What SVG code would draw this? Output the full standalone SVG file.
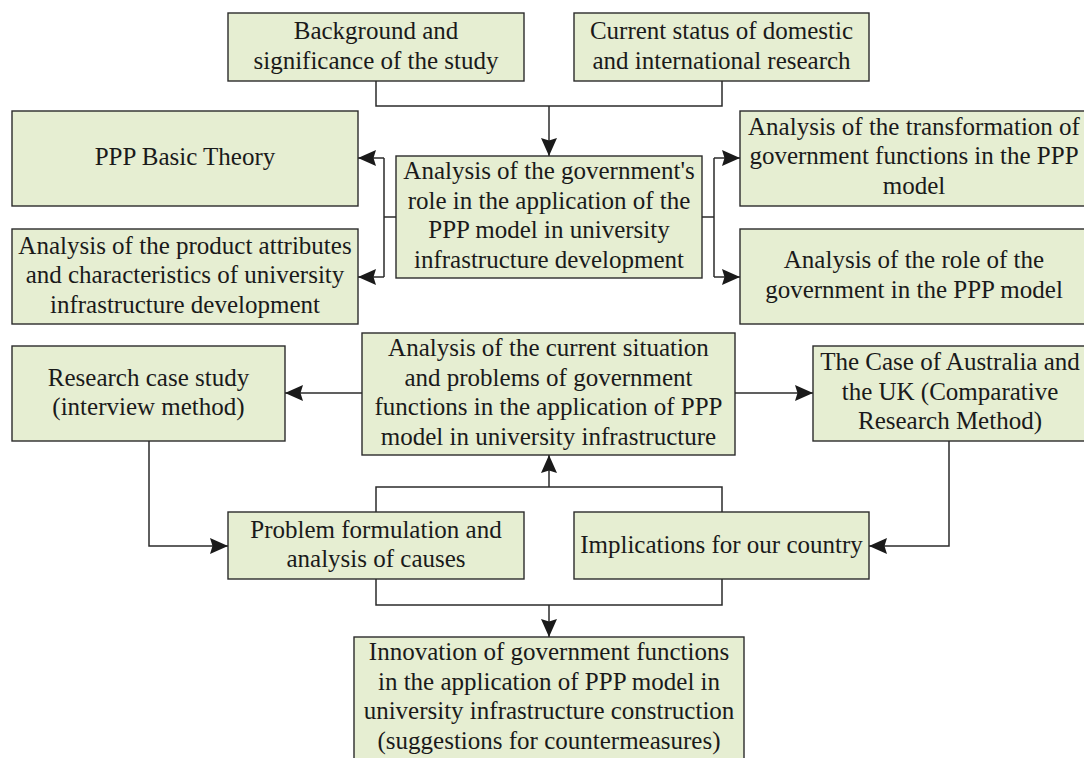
<svg xmlns="http://www.w3.org/2000/svg" width="1084" height="758" viewBox="0 0 1084 758">
  <style>
    .box { fill: #E6EED2; stroke: #2B2B2B; stroke-width: 1.4; }
    .lbl { font-family: 'Liberation Serif', 'Times New Roman', Tinos, 'DejaVu Serif', serif; font-size: 25px; fill: #1A1A1A; text-anchor: middle; }
    .wire { fill: none; stroke: #2B2B2B; stroke-width: 1.5; }
    .arr { marker-end: url(#head); }
  </style>
  <defs>
    <marker id="head" viewBox="0 0 18 16" refX="18" refY="8" markerWidth="18" markerHeight="16" markerUnits="userSpaceOnUse" orient="auto">
      <path d="M0,0 L18,8 L0,16 L2.5,8 Z" fill="#1A1A1A"/>
    </marker>
  </defs>
  <rect width="1084" height="758" fill="#FFFFFF"/>

  <g id="connectors">
    <!-- top two boxes merge into the central analysis box -->
    <path class="wire" d="M376,81 V106 H722 V81"/>
    <path class="wire arr" d="M549,106 V156"/>
    <!-- left fan-out -->
    <path class="wire" d="M396,217 H384 M384,158 V277"/>
    <path class="wire arr" d="M384,158 H358"/>
    <path class="wire arr" d="M384,277 H358"/>
    <!-- right fan-out -->
    <path class="wire" d="M702,217 H714 M714,158 V277"/>
    <path class="wire arr" d="M714,158 H740"/>
    <path class="wire arr" d="M714,277 H740"/>
    <!-- second row -->
    <path class="wire arr" d="M362,393 H285"/>
    <path class="wire arr" d="M735,393 H813"/>
    <path class="wire arr" d="M149,441 V546 H228"/>
    <path class="wire arr" d="M949,441 V546 H869"/>
    <!-- problem / implications brackets -->
    <path class="wire" d="M376,512 V487 H722 V512"/>
    <path class="wire arr" d="M549,487 V455"/>
    <path class="wire" d="M376,579 V605 H722 V579"/>
    <path class="wire arr" d="M549,605 V637"/>
  </g>

  <g id="background">
    <rect class="box" x="228" y="13" width="296" height="68"/>
    <text class="lbl" x="376" y="39">Background and</text>
    <text class="lbl" x="376" y="68.6">significance of the study</text>
  </g>

  <g id="current-status">
    <rect class="box" x="574" y="13" width="295" height="68"/>
    <text class="lbl" x="721.5" y="39">Current status of domestic</text>
    <text class="lbl" x="721.5" y="68.6">and international research</text>
  </g>

  <g id="ppp-theory">
    <rect class="box" x="12" y="111" width="346" height="95"/>
    <text class="lbl" x="185" y="165">PPP Basic Theory</text>
  </g>

  <g id="product-attributes">
    <rect class="box" x="12" y="229" width="346" height="95"/>
    <text class="lbl" x="185" y="253.5">Analysis of the product attributes</text>
    <text class="lbl" x="185" y="283.1">and characteristics of university</text>
    <text class="lbl" x="185" y="312.7">infrastructure development</text>
  </g>

  <g id="government-role">
    <rect class="box" x="396" y="156" width="306" height="122"/>
    <text class="lbl" x="549" y="179">Analysis of the government's</text>
    <text class="lbl" x="549" y="208.6">role in the application of the</text>
    <text class="lbl" x="549" y="238.2">PPP model in university</text>
    <text class="lbl" x="549" y="267.8">infrastructure development</text>
  </g>

  <g id="function-transformation">
    <rect class="box" x="740" y="111" width="348" height="95"/>
    <text class="lbl" x="914" y="134.5">Analysis of the transformation of</text>
    <text class="lbl" x="914" y="164.1">government functions in the PPP</text>
    <text class="lbl" x="914" y="193.7">model</text>
  </g>

  <g id="government-in-ppp">
    <rect class="box" x="740" y="229" width="348" height="95"/>
    <text class="lbl" x="914" y="268">Analysis of the role of the</text>
    <text class="lbl" x="914" y="297.6">government in the PPP model</text>
  </g>

  <g id="case-study">
    <rect class="box" x="12" y="346" width="273" height="95"/>
    <text class="lbl" x="148.5" y="385.5">Research case study</text>
    <text class="lbl" x="148.5" y="415.1">(interview method)</text>
  </g>

  <g id="current-problems">
    <rect class="box" x="362" y="333" width="373" height="122"/>
    <text class="lbl" x="548.5" y="356">Analysis of the current situation</text>
    <text class="lbl" x="548.5" y="385.6">and problems of government</text>
    <text class="lbl" x="548.5" y="415.2">functions in the application of PPP</text>
    <text class="lbl" x="548.5" y="444.8">model in university infrastructure</text>
  </g>

  <g id="australia-uk">
    <rect class="box" x="813" y="346" width="275" height="95"/>
    <text class="lbl" x="950" y="370">The Case of Australia and</text>
    <text class="lbl" x="950" y="399.6">the UK (Comparative</text>
    <text class="lbl" x="950" y="429.2">Research Method)</text>
  </g>

  <g id="problem-causes">
    <rect class="box" x="228" y="512" width="296" height="67"/>
    <text class="lbl" x="376" y="537.5">Problem formulation and</text>
    <text class="lbl" x="376" y="567.1">analysis of causes</text>
  </g>

  <g id="implications">
    <rect class="box" x="574" y="512" width="295" height="67"/>
    <text class="lbl" x="721.5" y="553">Implications for our country</text>
  </g>

  <g id="innovation">
    <rect class="box" x="354" y="637" width="390" height="124"/>
    <text class="lbl" x="549" y="660">Innovation of government functions</text>
    <text class="lbl" x="549" y="689.6">in the application of PPP model in</text>
    <text class="lbl" x="549" y="719.2">university infrastructure construction</text>
    <text class="lbl" x="549" y="748.8">(suggestions for countermeasures)</text>
  </g>
</svg>
